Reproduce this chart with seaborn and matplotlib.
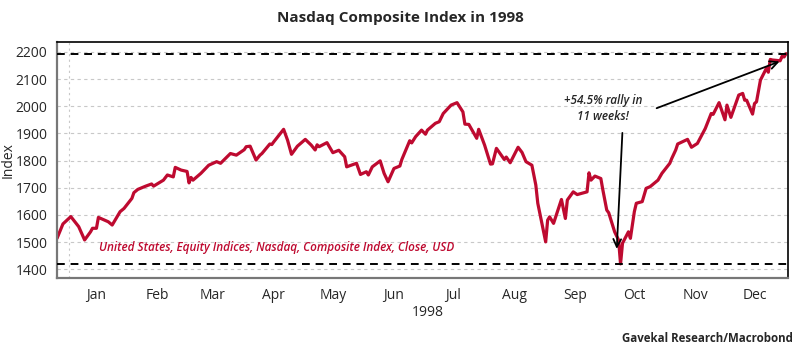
import pandas as pd
import numpy as np
import seaborn as sns
import matplotlib.pyplot as plt
import matplotlib.dates as mdates

sns.set_style("white")
plt.rcParams['font.family'] = ['Open Sans', 'DejaVu Sans']
red = "#BE0A30"

# Nasdaq Composite closes
dates = ["1997-12-26", "1997-12-29", "1998-01-02", "1998-01-06", "1998-01-09",
         "1998-01-12", "1998-01-13", "1998-01-15", "1998-01-16", "1998-01-21",
         "1998-01-23", "1998-01-27", "1998-01-29", "1998-02-02", "1998-02-03",
         "1998-02-05", "1998-02-09", "1998-02-12", "1998-02-13", "1998-02-18",
         "1998-02-20", "1998-02-23", "1998-02-24", "1998-02-27", "1998-03-02",
         "1998-03-03", "1998-03-04", "1998-03-05", "1998-03-09", "1998-03-13",
         "1998-03-17", "1998-03-19", "1998-03-24", "1998-03-27", "1998-03-31",
         "1998-04-01", "1998-04-03", "1998-04-06", "1998-04-08", "1998-04-09",
         "1998-04-13", "1998-04-14", "1998-04-15", "1998-04-20", "1998-04-22",
         "1998-04-24", "1998-04-27", "1998-05-01", "1998-05-04", "1998-05-06",
         "1998-05-07", "1998-05-08", "1998-05-12", "1998-05-15", "1998-05-18",
         "1998-05-21", "1998-05-22", "1998-05-27", "1998-05-29", "1998-06-01",
         "1998-06-02", "1998-06-04", "1998-06-08", "1998-06-10", "1998-06-12",
         "1998-06-15", "1998-06-18", "1998-06-19", "1998-06-23", "1998-06-24",
         "1998-06-26", "1998-06-29", "1998-07-01", "1998-07-02", "1998-07-06",
         "1998-07-08", "1998-07-10", "1998-07-14", "1998-07-17", "1998-07-20",
         "1998-07-21", "1998-07-23", "1998-07-27", "1998-07-28", "1998-07-31",
         "1998-08-03", "1998-08-04", "1998-08-06", "1998-08-10", "1998-08-11",
         "1998-08-13", "1998-08-17", "1998-08-19", "1998-08-21", "1998-08-24",
         "1998-08-26", "1998-08-27", "1998-08-31", "1998-09-01", "1998-09-02",
         "1998-09-04", "1998-09-08", "1998-09-10", "1998-09-11", "1998-09-14",
         "1998-09-16", "1998-09-21", "1998-09-22", "1998-09-23", "1998-09-25",
         "1998-09-28", "1998-09-29", "1998-10-01", "1998-10-02", "1998-10-05",
         "1998-10-07", "1998-10-08", "1998-10-09", "1998-10-12", "1998-10-13",
         "1998-10-15", "1998-10-16", "1998-10-19", "1998-10-21", "1998-10-23",
         "1998-10-26", "1998-10-27", "1998-10-29", "1998-11-02", "1998-11-03",
         "1998-11-05", "1998-11-06", "1998-11-11", "1998-11-13", "1998-11-16",
         "1998-11-20", "1998-11-23", "1998-11-24", "1998-11-27", "1998-11-30",
         "1998-12-01", "1998-12-03", "1998-12-07", "1998-12-09", "1998-12-10",
         "1998-12-11", "1998-12-14", "1998-12-15", "1998-12-16", "1998-12-18",
         "1998-12-21", "1998-12-22", "1998-12-23", "1998-12-24", "1998-12-28",
         "1998-12-29", "1998-12-30", "1998-12-31"]
closes = [1514, 1567, 1594, 1557, 1508,
          1538, 1551, 1551, 1591, 1575,
          1563, 1612, 1624, 1661, 1682,
          1694, 1706, 1714, 1706, 1728,
          1747, 1740, 1775, 1765, 1760,
          1718, 1738, 1728, 1753, 1783,
          1796, 1790, 1826, 1820, 1840,
          1851, 1853, 1802, 1820, 1826,
          1861, 1859, 1869, 1915, 1875,
          1823, 1853, 1878, 1857, 1839,
          1858, 1851, 1866, 1829, 1838,
          1814, 1777, 1790, 1749, 1759,
          1747, 1777, 1799, 1753, 1722,
          1771, 1780, 1804, 1873, 1865,
          1888, 1912, 1897, 1912, 1937,
          1943, 1973, 2004, 2013, 1979,
          1934, 1933, 1882, 1915, 1857,
          1787, 1788, 1845, 1804, 1813,
          1792, 1849, 1830, 1796, 1783,
          1710, 1643, 1501, 1581, 1593,
          1569, 1657, 1587, 1655, 1685,
          1675, 1685, 1755, 1728, 1743,
          1734, 1693, 1618, 1608, 1538,
          1508, 1420, 1496, 1538, 1514,
          1612, 1643, 1649, 1698, 1704,
          1722, 1728, 1753, 1790, 1808,
          1839, 1861, 1878, 1849, 1863,
          1918, 1973, 1970, 2013, 1950,
          2004, 1959, 2041, 2047, 2022,
          2022, 1971, 2010, 2016, 2096,
          2139, 2125, 2172, 2170, 2167,
          2184, 2181, 2193]
year_high = 2192.69
year_low = 1419.12
months = ["Jan", "Feb", "Mar", "Apr", "May", "Jun",
          "Jul", "Aug", "Sep", "Oct", "Nov", "Dec"]
yticks = [1400, 1500, 1600, 1700, 1800, 1900, 2000, 2100, 2200]

df = pd.DataFrame({"date": pd.to_datetime(dates), "close": closes})

fig = plt.figure(figsize=(8.01, 3.54), dpi=100)
ax = fig.add_axes([0.0712, 0.2138, 0.9126, 0.6667])

ax.set_yticks(yticks)
ax.grid(axis="y", color="#c8c8c8", linestyle=(0, (3, 3)), linewidth=0.8)
ax.set_axisbelow(True)

sns.lineplot(data=df, x="date", y="close", color=red, linewidth=2.3, ax=ax)

ax.axhline(year_high, color="black", linestyle=(0, (4, 3)), linewidth=1.4, zorder=3)
ax.axhline(year_low, color="black", linestyle=(0, (4, 3)), linewidth=1.4, zorder=3)

ax.set_xlim(pd.Timestamp("1997-12-26"), pd.Timestamp("1999-01-01"))
ax.set_ylim(1367, 2235)

# year boundaries: major ticks + dotted gridlines; month boundaries: minor ticks
ax.set_xticks([pd.Timestamp("1998-01-01"), pd.Timestamp("1999-01-01")])
ax.set_xticklabels(["", ""])
ax.xaxis.set_minor_locator(mdates.MonthLocator())
ax.grid(axis="x", which="major", color="#c8c8c8", linestyle=(0, (2, 3)), linewidth=0.8)
ax.tick_params(axis="x", which="major", length=5, width=1, color="#666666", direction="out")
ax.tick_params(axis="x", which="minor", length=3, width=1, color="#888888", direction="out")
ax.tick_params(axis="y", length=5, width=1, color="#666666", direction="out",
               labelsize=10, pad=2)

trans = ax.get_xaxis_transform()
for i, m in enumerate(months):
    mid = pd.Timestamp(1998, i + 1, 15)
    ax.text(mid, -0.072, m, transform=trans, ha="center", va="center", fontsize=10)
ax.text(pd.Timestamp("1998-07-02"), -0.145, "1998", transform=trans,
        ha="center", va="center", fontsize=10)

for s in ["left", "bottom"]:
    ax.spines[s].set_color("#777777")
    ax.spines[s].set_linewidth(1.6)
for s in ["top", "right"]:
    ax.spines[s].set_color("black")
    ax.spines[s].set_linewidth(1.2)

ax.set_xlabel("")
ax.set_ylabel("Index", fontsize=10)
ax.yaxis.set_label_coords(-0.057, 0.5)

ax.text(0.058, 0.132, "United States, Equity Indices, Nasdaq, Composite Index, Close, USD",
        transform=ax.transAxes, color=red, fontsize=8.5, style="italic",
        fontweight="semibold", ha="left", va="center")

ax.text(pd.Timestamp("1998-09-29"), 1991, "+54.5% rally in\n11 weeks!",
        ha="center", va="center", fontsize=8.5, style="italic", fontweight="semibold",
        linespacing=1.3)
ax.annotate("", xy=(pd.Timestamp("1998-10-06"), 1465),
            xytext=(pd.Timestamp("1998-10-09"), 1912),
            arrowprops=dict(arrowstyle="->", color="black", lw=1.3, mutation_scale=14))
ax.annotate("", xy=(pd.Timestamp("1998-12-29"), 2168),
            xytext=(pd.Timestamp("1998-10-25"), 1989),
            arrowprops=dict(arrowstyle="->", color="black", lw=1.3, mutation_scale=14))

fig.text(0.5, 0.95, "Nasdaq Composite Index in 1998", ha="center", va="center",
         fontsize=11, fontweight="bold")
fig.text(0.99, 0.045, "Gavekal Research/Macrobond", ha="right", va="center",
         fontsize=8.3, fontweight="bold")

fig.savefig("out.png", dpi=100)
